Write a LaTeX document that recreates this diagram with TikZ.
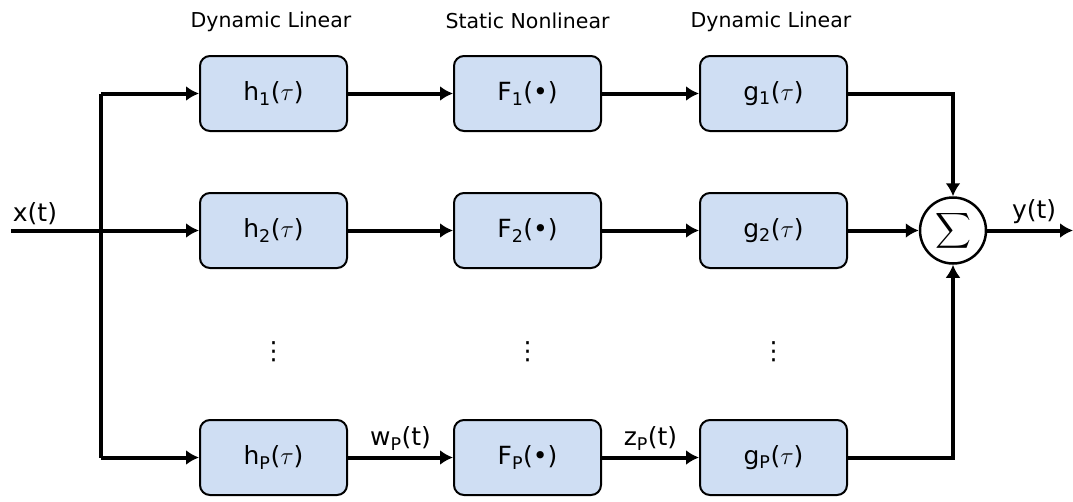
\documentclass[tikz,border=0pt]{standalone}
\usepackage{amsmath}
\usepackage{exscale}
\usepackage{fontspec}
\setmainfont{DejaVu Sans}
\usepackage{tikz}
\usetikzlibrary{arrows.meta}
\definecolor{boxblue}{RGB}{207,222,243}

\tikzset{
  blk/.style={draw, fill=boxblue, rounded corners=10pt, line width=2pt,
    minimum width=147pt, minimum height=75pt, font=\fontsize{25}{30}\selectfont},
  sig/.style={line width=4pt, -{Latex[length=13pt,width=15pt]}},
  lbl/.style={font=\fontsize{25}{30}\selectfont},
  hdr/.style={font=\fontsize{20.5}{25}\selectfont}
}

\begin{document}
\begin{tikzpicture}[x=1pt,y=-1pt]
\useasboundingbox (0,0) rectangle (1073,501);
% column headers
\node[hdr] (hdrh) at (271,22) {Dynamic Linear};
\node[hdr] (hdrF) at (527.5,21) {Static Nonlinear};
\node[hdr] (hdrg) at (771,22) {Dynamic Linear};
% blocks
\node[blk] (h1) at (273.5,93.5) {h\textsubscript{1}($\tau$)};
\node[blk] (h2) at (273.5,230.5) {h\textsubscript{2}($\tau$)};
\node[blk] (hP) at (273.5,457.5) {h\textsubscript{P}($\tau$)};
\node[blk] (F1) at (527.5,93.5) {F\textsubscript{1}(•)};
\node[blk] (F2) at (527.5,230.5) {F\textsubscript{2}(•)};
\node[blk] (FP) at (527.5,457.5) {F\textsubscript{P}(•)};
\node[blk] (g1) at (773.5,93.5) {g\textsubscript{1}($\tau$)};
\node[blk] (g2) at (773.5,230.5) {g\textsubscript{2}($\tau$)};
\node[blk] (gP) at (773.5,457.5) {g\textsubscript{P}($\tau$)};
% dots
\node[lbl] (dh) at (273.5,352) {⋮};
\node[lbl] (dF) at (527.5,352) {⋮};
\node[lbl] (dg) at (773.5,352) {⋮};
% summation
\node[draw, circle, line width=2.5pt, minimum size=66pt, inner sep=0pt,
  font=\fontsize{23}{28}\selectfont] (sum) at (953,230.5) {$\displaystyle\sum$};
% input and splitting
\coordinate (xin) at (11,230.5);
\coordinate (top) at (101,93.5);
\coordinate (bot) at (101,457.5);
\coordinate (yout) at (1073,230.5);
\node[lbl] (xlbl) at (35,214) {x(t)};
\draw[line width=4pt] (top) -- (bot);
\draw[sig] (top) -- (h1);
\draw[sig] (xin) -- (h2);
\draw[sig] (bot) -- (hP);
% rows
\draw[sig] (h1) -- (F1);
\draw[sig] (F1) -- (g1);
\draw[sig] (h2) -- (F2);
\draw[sig] (F2) -- (g2);
\draw[sig] (hP) -- node[lbl, above=2pt] {w\textsubscript{P}(t)} (FP);
\draw[sig] (FP) -- node[lbl, above=2pt] {z\textsubscript{P}(t)} (gP);
% to the sum
\draw[sig] (g1) -| (sum);
\draw[sig] (g2) -- (sum);
\draw[sig] (gP) -| (sum);
\draw[sig] (sum) -- node[lbl, above=1pt, xshift=4pt] {y(t)} (yout);
\end{tikzpicture}
\end{document}
